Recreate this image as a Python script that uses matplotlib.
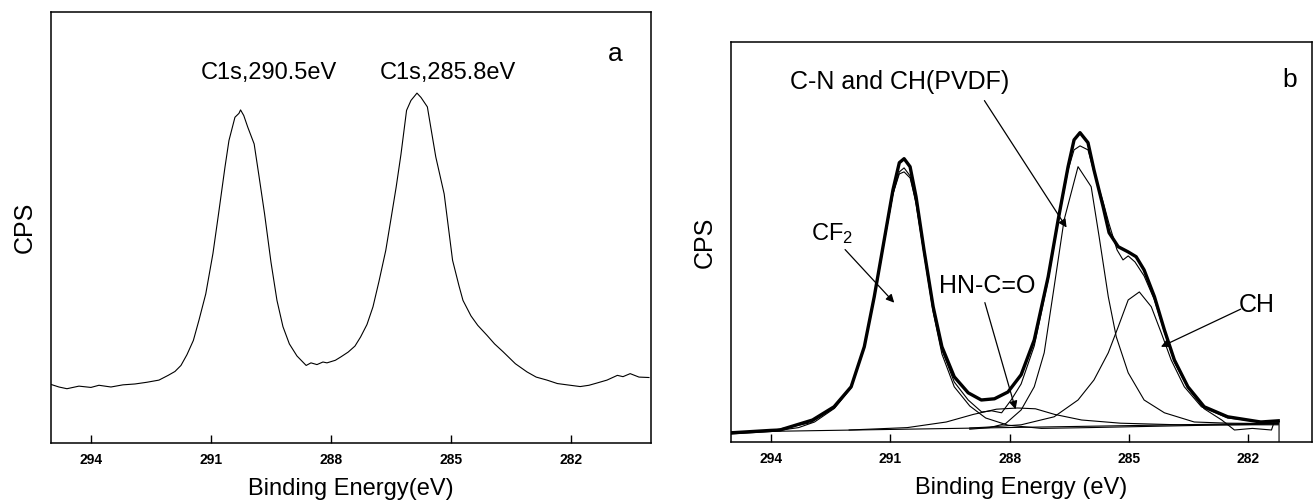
import numpy as np
import matplotlib
matplotlib.use('Agg')
import matplotlib.pyplot as plt

plt.rcParams['font.family'] = ['Liberation Sans', 'DejaVu Sans']
plt.rcParams['mathtext.default'] = 'regular'

# ---- panel a: C1s spectrum (arbitrary CPS units)
be_a = [295.0, 294.8, 294.6, 294.3, 294.0, 293.8, 293.5, 293.2, 292.9, 292.6,
        292.3, 292.07, 291.9, 291.75, 291.6, 291.44, 291.3, 291.13, 290.95, 290.81,
        290.65, 290.55, 290.4, 290.3, 290.26, 290.18, 290.08, 289.92, 289.8, 289.66,
        289.5, 289.35, 289.2, 289.04, 288.85, 288.62, 288.5, 288.35, 288.2, 288.1,
        287.89, 287.75, 287.57, 287.4, 287.26, 287.1, 286.95, 286.8, 286.63, 286.5,
        286.37, 286.25, 286.11, 286.0, 285.92, 285.85, 285.75, 285.59, 285.5, 285.38,
        285.17, 284.96, 284.8, 284.7, 284.5, 284.33, 284.1, 283.91, 283.7, 283.39,
        283.1, 282.87, 282.6, 282.34, 282.1, 281.77, 281.55, 281.36, 281.1, 280.84,
        280.7, 280.52, 280.3, 280.05]
cps_a = [13.6, 13.0, 12.6, 13.2, 12.9, 13.4, 13.0, 13.5, 13.7, 14.1,
         14.6, 15.7, 16.6, 18.0, 20.5, 23.8, 28.5, 34.6, 44.0, 53.2,
         64.0, 70.2, 75.6, 76.5, 77.3, 76.0, 73.3, 69.4, 62.0, 53.2,
         42.0, 33.1, 27.0, 23.0, 20.2, 18.0, 18.6, 18.2, 18.8, 18.6,
         19.2, 20.0, 21.1, 22.5, 24.6, 27.5, 31.6, 37.5, 44.7, 52.0,
         59.4, 67.0, 77.2, 79.5, 80.4, 81.2, 80.2, 78.0, 73.0, 66.4,
         57.8, 42.4, 36.5, 33.1, 29.5, 27.3, 25.0, 23.0, 21.2, 18.4,
         16.5, 15.3, 14.6, 13.8, 13.5, 13.1, 13.4, 13.9, 14.6, 15.7,
         15.4, 16.1, 15.3, 15.2]

# ---- panel b: experimental, fitted envelope and components
be_env = [295.0, 294.5, 294.0, 293.77, 292.95, 292.41, 291.98, 291.65, 291.4, 291.15,
          290.93, 290.77, 290.65, 290.5, 290.35, 290.15, 289.92, 289.7, 289.39, 289.04,
          288.71, 288.38, 288.04, 287.71, 287.38, 287.03, 286.78, 286.53, 286.38, 286.23,
          286.03, 285.88, 285.65, 285.5, 285.27, 285.02, 284.82, 284.62, 284.36, 284.11,
          283.86, 283.52, 283.11, 282.52, 281.69, 281.25]
cps_env = [2.3, 2.6, 2.9, 3.0, 5.5, 8.8, 13.8, 23.8, 36.3, 50.5,
           63.0, 69.8, 70.8, 68.8, 61.3, 48.0, 33.8, 23.8, 16.3, 12.3,
           10.5, 10.8, 12.5, 16.8, 25.5, 41.3, 55.5, 68.8, 75.5, 77.3,
           74.8, 68.0, 58.8, 52.3, 48.8, 47.5, 46.3, 43.0, 36.3, 28.0,
           20.5, 13.8, 8.8, 6.3, 5.0, 5.3]

be_exp = [295.0, 294.0, 293.3, 292.9, 292.4, 291.98, 291.65, 291.4, 291.15, 290.93,
          290.77, 290.65, 290.5, 290.35, 290.15, 289.92, 289.7, 289.39, 289.04, 288.7,
          288.45, 288.2, 287.96, 287.71, 287.38, 287.03, 286.78, 286.53, 286.38, 286.23,
          286.03, 285.88, 285.65, 285.5, 285.3, 285.15, 285.02, 284.85, 284.62, 284.36,
          284.11, 283.86, 283.52, 283.11, 282.67, 282.35, 281.9, 281.42, 281.35, 281.23,
          281.23]
cps_exp = [2.0, 2.6, 3.6, 5.0, 8.4, 13.5, 23.5, 35.8, 50.0, 62.0,
           67.0, 67.5, 66.0, 60.0, 47.5, 33.0, 23.0, 15.0, 10.5, 7.5,
           7.8, 7.3, 10.5, 14.5, 24.0, 40.5, 55.0, 68.0, 73.0, 74.0,
           73.0, 67.5, 60.0, 54.5, 48.0, 45.5, 46.5, 45.0, 41.5, 35.5,
           27.5, 20.0, 13.5, 8.3, 5.5, 3.0, 3.4, 3.0, 5.1, 5.1,
           0.0]

be_cf2 = [295.0, 294.0, 293.0, 292.4, 292.0, 291.65, 291.4, 291.15, 290.93, 290.77,
          290.65, 290.5, 290.35, 290.15, 289.92, 289.7, 289.39, 289.0, 288.6, 288.04,
          287.2, 286.0, 283.0, 281.25]
cps_cf2 = [2.3, 2.8, 4.8, 8.6, 13.5, 23.5, 36.0, 50.0, 62.0, 67.5,
           68.5, 66.5, 59.5, 47.0, 32.5, 22.0, 13.8, 9.0, 6.0, 4.2,
           3.4, 3.6, 4.2, 4.5]

be_cn = [289.0, 288.5, 288.1, 287.71, 287.38, 287.13, 286.88, 286.63, 286.28, 285.95,
         285.75, 285.52, 285.32, 285.02, 284.62, 284.11, 283.36, 282.5, 281.25]
cps_cn = [3.2, 3.6, 4.6, 8.0, 13.8, 22.3, 38.8, 55.5, 68.8, 63.8,
          51.3, 36.3, 26.3, 17.3, 10.5, 7.3, 5.0, 4.7, 4.6]

be_ch = [289.0, 288.6, 287.71, 286.88, 286.28, 285.88, 285.52, 285.27, 285.02, 284.74,
         284.44, 284.19, 283.94, 283.61, 283.18, 282.52, 281.8, 281.25]
cps_ch = [3.5, 3.7, 4.3, 6.3, 10.5, 15.5, 22.3, 28.8, 35.5, 37.5,
          33.8, 27.3, 20.5, 13.8, 8.8, 6.0, 5.2, 4.9]

be_hn = [292.03, 290.57, 289.59, 288.91, 288.33, 287.8, 287.35, 286.87, 286.19, 285.21,
         283.75, 281.25]
cps_hn = [3.0, 3.6, 5.0, 6.9, 8.2, 8.5, 8.3, 6.9, 5.5, 4.7, 4.3, 4.3]

be_base = [295.0, 281.25]
cps_base = [2.5, 4.7]

ticks = [294, 291, 288, 285, 282]

fig = plt.figure(figsize=(13.13, 5.04), dpi=100)
ax1 = fig.add_axes([0.0388, 0.121, 0.457, 0.855])
ax2 = fig.add_axes([0.5567, 0.123, 0.4426, 0.794])

for ax in (ax1, ax2):
    ax.set_ylim(0, 100)
    ax.set_xticks(ticks)
    ax.set_yticks([])
    ax.tick_params(axis='x', direction='in', length=6, width=1, labelsize=10, pad=7)
    for lab in ax.get_xticklabels():
        lab.set_fontweight('bold')
    for s in ax.spines.values():
        s.set_linewidth(1.1)
    ax.set_ylabel('CPS', fontsize=18, labelpad=10)
ax1.set_xlim(295, 280)
ax2.set_xlim(295, 280.4)

ax1.plot(be_a, cps_a, color='black', lw=0.8)
ax1.set_xlabel('Binding Energy(eV)', fontsize=17, labelpad=8)
ax1.text(289.56, 85.9, 'C1s,290.5eV', fontsize=17, ha='center', va='center')
ax1.text(285.07, 85.9, 'C1s,285.8eV', fontsize=17, ha='center', va='center')
ax1.text(280.89, 90.3, 'a', fontsize=19, ha='center', va='center')

ax2.plot(be_base, cps_base, color='black', lw=0.8)
ax2.plot(be_hn, cps_hn, color='black', lw=0.8)
ax2.plot(be_cf2, cps_cf2, color='black', lw=0.8)
ax2.plot(be_cn, cps_cn, color='black', lw=0.8)
ax2.plot(be_ch, cps_ch, color='black', lw=0.8)
ax2.plot(be_exp, cps_exp, color='black', lw=0.8)
ax2.plot(be_env, cps_env, color='black', lw=2.4)
ax2.set_xlabel('Binding Energy (eV)', fontsize=17, labelpad=8)

arr = dict(arrowstyle='-|>', color='black', lw=0.9, mutation_scale=12)
ax2.text(290.75, 90.0, 'C-N and CH(PVDF)', fontsize=18, ha='center', va='center')
ax2.annotate('', xy=(286.53, 53.0), xytext=(288.67, 85.9), arrowprops=arr)
ax2.text(292.45, 52.0, 'CF$_2$', fontsize=17, ha='center', va='center')
ax2.annotate('', xy=(290.85, 34.3), xytext=(292.18, 48.6), arrowprops=arr)
ax2.text(288.56, 39.1, 'HN-C=O', fontsize=18, ha='center', va='center')
ax2.annotate('', xy=(287.83, 7.5), xytext=(288.64, 35.5), arrowprops=arr)
ax2.text(281.8, 34.3, 'CH', fontsize=18, ha='center', va='center')
ax2.annotate('', xy=(284.26, 23.5), xytext=(282.13, 33.5), arrowprops=arr)
ax2.text(280.97, 90.5, 'b', fontsize=19, ha='center', va='center')

fig.savefig('out.png', dpi=100)
